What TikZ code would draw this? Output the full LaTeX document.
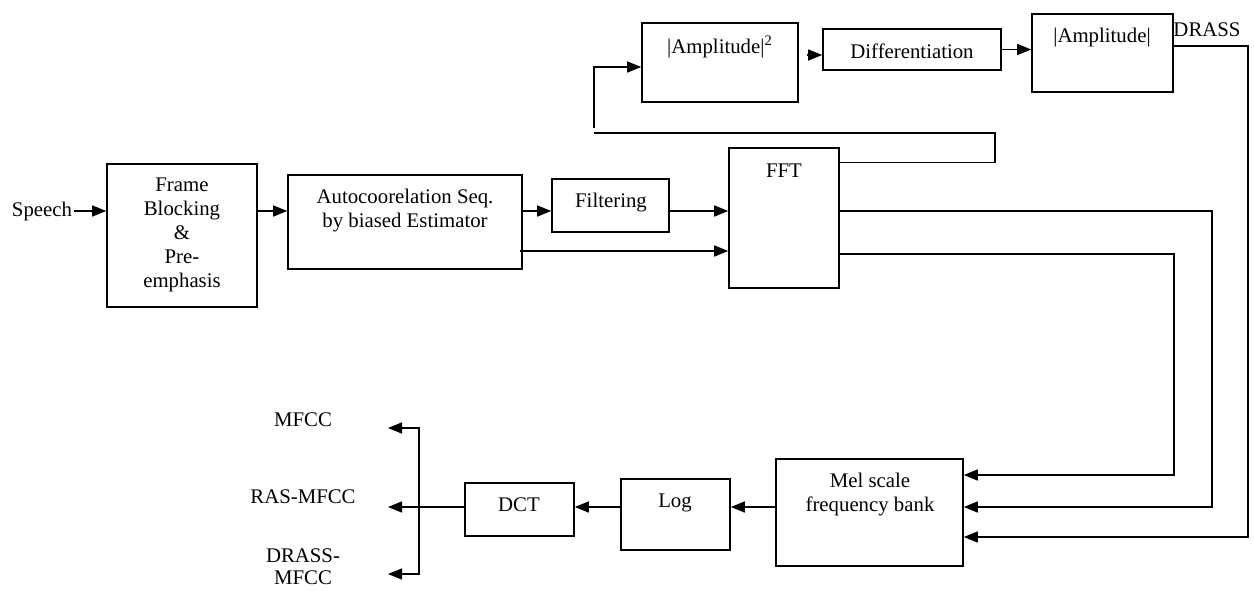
\documentclass[tikz,border=0pt]{standalone}
\usepackage{fontspec}
\setmainfont{Liberation Serif}
\usetikzlibrary{arrows.meta,calc,positioning}

\tikzset{
  blk/.style={draw, line width=0.8pt, inner sep=0pt},
  lbl/.style={align=center, inner sep=1pt, font=\fontsize{10.4pt}{12pt}\selectfont},
  wire/.style={line width=0.7pt},
}

\begin{document}
\begin{tikzpicture}[>={Triangle[length=7pt,width=5.5pt]}, x=0.5pt, y=-0.5pt]
    \useasboundingbox (0,0) rectangle (1254,590);

    % Blocks
    \node[blk, minimum width=75pt, minimum height=71.5pt] (frame) at (182,235.5) {};
    \node[blk, minimum width=117pt, minimum height=47pt] (auto) at (405,222) {};
    \node[blk, minimum width=58.5pt, minimum height=26.5pt] (filt) at (610.5,205.5) {};
    \node[blk, minimum width=55pt, minimum height=70pt] (fft) at (784,218) {};
    \node[blk, minimum width=78pt, minimum height=39.5pt] (amp2) at (720,62.5) {};
    \node[blk, minimum width=89pt, minimum height=20.5pt] (diff) at (912,49.5) {};
    \node[blk, minimum width=70.5pt, minimum height=39pt] (amp) at (1102.5,53) {};
    \node[blk, minimum width=93.5pt, minimum height=53.5pt] (mel) at (869.5,512.5) {};
    \node[blk, minimum width=54.5pt, minimum height=35.5pt] (log) at (675.5,514.5) {};
    \node[blk, minimum width=54.5pt, minimum height=26.5pt] (dct) at (519.5,509.5) {};

    % Texts
    \node[lbl] (speech) at (42,211) {Speech};
    \node[lbl] (frametxt) at (182,235) {Frame\\Blocking\\\&\\Pre-\\emphasis};
    \node[lbl] (autotxt) at (405,211) {Autocoorelation Seq.\\by biased Estimator};
    \node[lbl] (filttxt) at (611,203) {Filtering};
    \node[lbl] (ffttxt) at (784,171) {FFT};
    \node[lbl] (amp2txt) at (720,47) {|Amplitude|\textsuperscript{2}};
    \node[lbl] (difftxt) at (912,51) {Differentiation};
    \node[lbl] (amptxt) at (1102,38) {|Amplitude|};
    \node[lbl] (drass) at (1207,30) {DRASS};
    \node[lbl] (meltxt) at (870,495) {Mel scale\\frequency bank};
    \node[lbl] (logtxt) at (675,503) {Log};
    \node[lbl] (dcttxt) at (519,505) {DCT};
    \node[lbl] (mfcc) at (303,420) {MFCC};
    \node[lbl] (rasmfcc) at (303,497) {RAS-MFCC};
    \node[lbl, font=\fontsize{10.4pt}{11pt}\selectfont] (drassmfcc) at (303,567) {DRASS-\\MFCC};

    % Bends and bus points
    \coordinate (loopL) at (594,133);
    \coordinate (loopR) at (995,133);
    \coordinate (busA) at (1174,300);
    \coordinate (busB) at (1212,300);
    \coordinate (busC) at (1248,300);
    \coordinate (bus) at (419,507);
    \coordinate (o1) at (388,428);
    \coordinate (o2) at (388,507);
    \coordinate (o3) at (388,574);

    % Front end
    \draw[wire,->] (speech.east) -- (speech.east -| frame.west);
    \draw[wire,->] (frame.east |- speech) -- (auto.west |- speech);
    \draw[wire,->] (auto.east |- speech) -- (filt.west |- speech);
    \draw[wire,->] (filt.east |- speech) -- (fft.west |- speech);
    \draw[wire,->] ($(auto.east)+(-1.5pt,-14.5pt)$) -- ($(fft.west |- auto.east)+(0,-14.5pt)$);

    % DRASS branch
    \draw[wire] ([yshift=-7.5pt]fft.north east) -| (loopR) -- (loopL);
    \draw[wire,->] ([yshift=2.5pt]loopL) |- ([yshift=-2.25pt]amp2.west);
    \draw[wire,->] ($(amp2.east |- diff.west)+(4pt,-2.75pt)$) -- ($(diff.west)+(0,-2.75pt)$);
    \draw[wire,->] (diff.east) -- (diff.east -| amp.west);
    \draw[wire,->] ([yshift=3.5pt]amp.east) -| (busC) |- ([yshift=-12.25pt]mel.east);

    % FFT to filter bank
    \draw[wire,->] ([yshift=3.5pt]fft.east) -| (busB) |- ([yshift=2.75pt]mel.east);
    \draw[wire,->] ([yshift=-18pt]fft.east) -| (busA) |- ([yshift=18.75pt]mel.east);

    % Back end
    \draw[wire,->] (mel.west |- bus) -- (log.east |- bus);
    \draw[wire,->] (log.west |- bus) -- (dct.east |- bus);
    \draw[wire,->] (dct.west |- bus) -- (o2);
    \draw[wire,->] (bus) |- (o1);
    \draw[wire,->] (bus) |- (o3);

\end{tikzpicture}
\end{document}
